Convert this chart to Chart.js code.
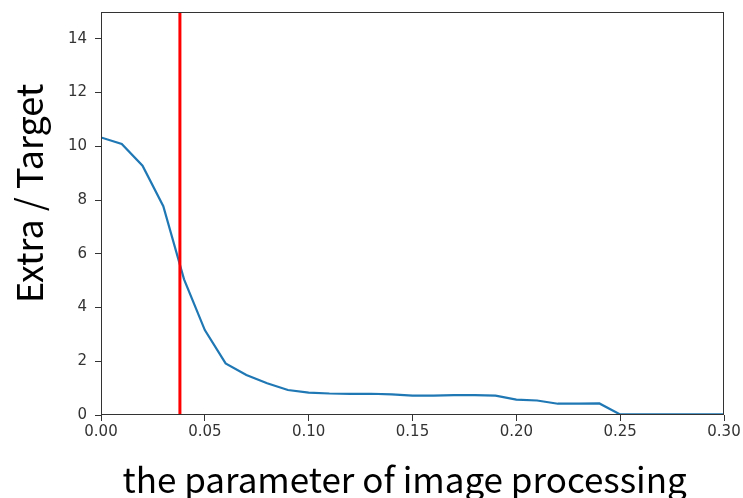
<!DOCTYPE html>
<html>
<head>
<meta charset="utf-8">
<script src="https://cdn.jsdelivr.net/npm/chart.js@4/dist/chart.umd.min.js"></script>
<style>
  html, body { margin: 0; padding: 0; background: #fff; }
  #wrap { width: 743px; height: 498px; }
</style>
</head>
<body>
<div id="wrap"><canvas id="paramChart" width="743" height="498"></canvas></div>
<script>
// parameter values (x) and measured Extra / Target ratio (y)
const paramValues = [0.00, 0.01, 0.02, 0.03, 0.04, 0.05, 0.06, 0.07, 0.08, 0.09, 0.10,
    0.11, 0.12, 0.13, 0.14, 0.15, 0.16, 0.17, 0.18, 0.19, 0.20,
    0.21, 0.22, 0.23, 0.24, 0.25, 0.26, 0.27, 0.28, 0.29, 0.30];
const ratioValues = [10.33, 10.09, 9.28, 7.77, 5.05, 3.16, 1.92, 1.49, 1.18, 0.93, 0.83,
    0.80, 0.79, 0.79, 0.77, 0.72, 0.72, 0.74, 0.74, 0.72, 0.57,
    0.54, 0.42, 0.42, 0.43, 0.02, 0.02, 0.02, 0.02, 0.02, 0.02];
const threshold = 0.038; // red marker line
const xTicks = [0, 0.05, 0.10, 0.15, 0.20, 0.25, 0.30];
const yTicks = [0, 2, 4, 6, 8, 10, 12, 14];
const yMax = 15;

const curve = paramValues.map((x, i) => ({ x: x, y: ratioValues[i] }));
const marker = [{ x: threshold, y: 0 }, { x: threshold, y: yMax }];

// matplotlib-like frame around the plot area
const framePlugin = {
    id: 'frame',
    afterDraw(chart) {
        const a = chart.chartArea;
        const c = chart.ctx;
        c.save();
        c.strokeStyle = '#333';
        c.lineWidth = 1;
        c.strokeRect(Math.round(a.left) + 0.5, Math.round(a.top) + 0.5,
            Math.round(a.right - a.left) - 1, Math.round(a.bottom - a.top) - 1);
        c.restore();
    }
};

const tickFont = { family: 'DejaVu Sans', size: 15 };
const titleFamily = '"Noto Sans CJK JP", "Noto Sans", sans-serif';

new Chart(document.getElementById('paramChart').getContext('2d'), {
    type: 'scatter',
    data: {
        datasets: [
            {
                label: 'threshold',
                data: marker,
                showLine: true,
                borderColor: '#ff0000',
                borderWidth: 3,
                pointRadius: 0
            },
            {
                label: 'Extra / Target',
                data: curve,
                showLine: true,
                borderColor: '#1f77b4',
                borderWidth: 2.2,
                pointRadius: 0,
                tension: 0
            }
        ]
    },
    options: {
        responsive: false,
        animation: false,
        layout: { padding: { top: 12, right: 19, left: 0, bottom: 0 } },
        plugins: { legend: { display: false }, tooltip: { enabled: false } },
        scales: {
            x: {
                type: 'linear',
                min: 0,
                max: 0.30,
                afterBuildTicks: s => { s.ticks = xTicks.map(v => ({ value: v })); },
                afterFit: s => { s.height = 83; s.paddingLeft = 0; s.paddingRight = 0; },
                border: { display: false },
                grid: { drawOnChartArea: false, drawTicks: true, tickLength: 6, color: '#333' },
                ticks: {
                    font: tickFont,
                    color: '#333',
                    padding: 2,
                    maxRotation: 0,
                    callback: v => v.toFixed(2)
                },
                title: {
                    display: true,
                    text: 'the parameter of image processing  ',
                    font: { family: titleFamily, size: 35, lineHeight: 1 },
                    color: '#000',
                    padding: { top: 0, bottom: 1 }
                }
            },
            y: {
                type: 'linear',
                min: 0,
                max: yMax,
                afterBuildTicks: s => { s.ticks = yTicks.map(v => ({ value: v })); },
                afterFit: s => { s.width = 101; s.paddingTop = 0; s.paddingBottom = 0; },
                border: { display: false },
                grid: { drawOnChartArea: false, drawTicks: true, tickLength: 6, color: '#333' },
                ticks: {
                    font: tickFont,
                    color: '#333',
                    padding: 8
                },
                title: {
                    display: true,
                    text: '     Extra / Target',
                    font: { family: titleFamily, size: 36, lineHeight: 1 },
                    color: '#000',
                    padding: { top: 11, bottom: 0 }
                }
            }
        }
    },
    plugins: [framePlugin]
});
</script>
</body>
</html>
